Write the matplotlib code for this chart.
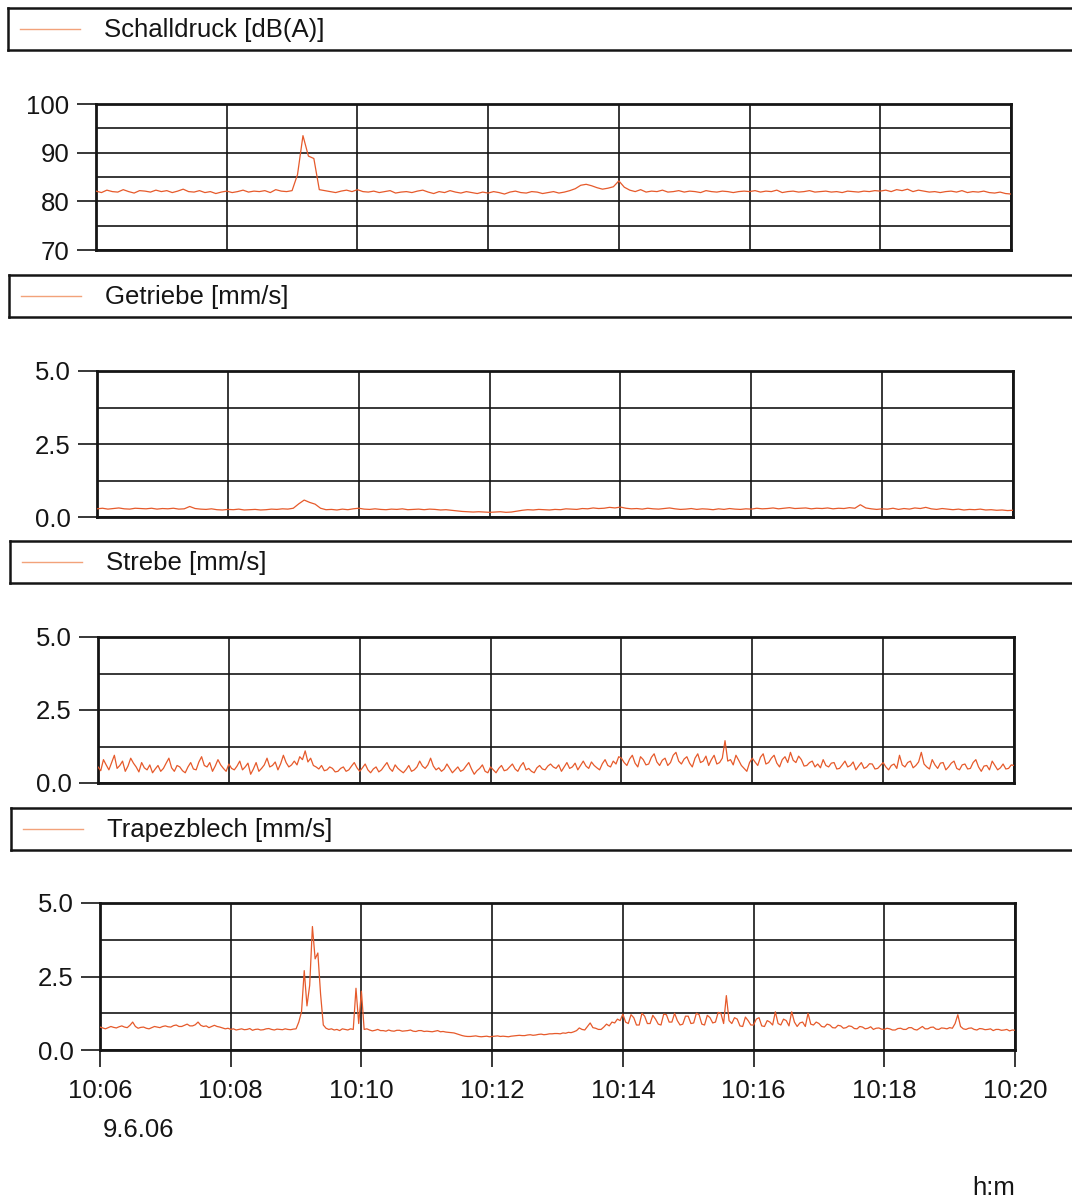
import matplotlib

matplotlib.use("Agg")
import matplotlib.pyplot as plt
import numpy as np

plt.rcParams["font.family"] = ["Liberation Sans", "DejaVu Sans"]

# time axes: minutes after 10:06 (5 s and 2.5 s sampling)
t_5s = np.arange(169) / 12.0
t_2s5 = np.arange(337) / 24.0
x_ticks = [0, 2, 4, 6, 8, 10, 12, 14]
x_labels = ["10:06", "10:08", "10:10", "10:12", "10:14", "10:16", "10:18", "10:20"]
date_label = "9.6.06"
unit_label = "h:m"

titles = ["Schalldruck [dB(A)]", "Getriebe [mm/s]", "Strebe [mm/s]", "Trapezblech [mm/s]"]

schalldruck = [
    82.1, 81.8, 82.3, 82.0, 81.9, 82.4, 82.0, 81.7, 82.2, 82.1, 81.9, 82.3,
    82.0, 82.2, 81.8, 82.1, 82.5, 82.0, 81.9, 82.2, 81.8, 82.0, 81.6, 81.9,
    82.1, 81.8, 82.0, 82.3, 81.9, 82.1, 82.0, 82.2, 81.8, 82.4, 82.1, 82.0,
    82.2, 85.5, 93.5, 89.3, 88.8, 82.4, 82.2, 82.0, 81.8, 82.1, 82.3, 82.0,
    82.4, 82.0, 81.9, 82.1, 81.8, 82.0, 82.2, 81.7, 81.9, 82.0, 81.8, 82.1,
    82.3, 81.9, 81.6, 82.0, 81.8, 82.2, 81.9, 81.7, 82.0, 81.8, 81.6, 81.9,
    81.7, 82.0, 81.8, 81.5, 81.9, 82.1, 81.8, 81.7, 82.0, 81.9, 81.6, 81.8,
    82.0, 81.7, 81.9, 82.2, 82.6, 83.3, 83.5, 83.2, 82.8, 82.5, 82.7, 83.0,
    84.2, 82.9, 82.3, 82.0, 82.4, 81.9, 82.1, 82.0, 82.3, 81.9, 82.0, 82.2,
    81.9, 82.1, 82.0, 81.8, 82.2, 82.0, 81.9, 82.1, 82.0, 81.8, 82.0, 82.1,
    82.0, 82.2, 81.9, 82.1, 82.0, 82.3, 81.8, 82.0, 82.1, 81.9, 82.0, 82.2,
    81.9, 82.0, 82.1, 81.9, 82.0, 81.8, 82.1, 82.0, 81.9, 82.1, 82.0, 82.2,
    82.1, 82.3, 82.0, 82.4, 82.2, 82.5, 82.0, 82.3, 82.1, 81.9, 82.0, 81.8,
    82.0, 82.1, 81.9, 82.2, 81.8, 82.0, 81.9, 82.1, 81.8, 81.7, 81.9, 81.6, 81.5,
]

getriebe = [
    0.28, 0.30, 0.27, 0.29, 0.31, 0.28, 0.27, 0.30, 0.29, 0.28, 0.30, 0.27,
    0.29, 0.28, 0.30, 0.27, 0.28, 0.36, 0.29, 0.27, 0.26, 0.28, 0.25, 0.24,
    0.26, 0.25, 0.27, 0.24, 0.25, 0.26, 0.24, 0.25, 0.27, 0.26, 0.28, 0.27,
    0.30, 0.45, 0.58, 0.50, 0.44, 0.30, 0.25, 0.26, 0.24, 0.27, 0.25, 0.28,
    0.30, 0.27, 0.26, 0.28, 0.26, 0.25, 0.27, 0.26, 0.28, 0.25, 0.26, 0.27,
    0.25, 0.27, 0.26, 0.24, 0.25, 0.23, 0.21, 0.19, 0.18, 0.17, 0.18, 0.17,
    0.16, 0.17, 0.18, 0.16, 0.17, 0.20, 0.23, 0.25, 0.24, 0.26, 0.25, 0.24,
    0.26, 0.25, 0.28, 0.27, 0.26, 0.29, 0.28, 0.31, 0.29, 0.30, 0.33, 0.31,
    0.34, 0.30, 0.28, 0.29, 0.27, 0.30, 0.28, 0.27, 0.29, 0.31, 0.28, 0.26,
    0.27, 0.29, 0.26, 0.28, 0.27, 0.25, 0.28, 0.26, 0.29, 0.27, 0.26, 0.28,
    0.27, 0.30, 0.28, 0.29, 0.31, 0.28, 0.30, 0.32, 0.29, 0.30, 0.31, 0.28,
    0.30, 0.29, 0.31, 0.28, 0.30, 0.29, 0.32, 0.30, 0.42, 0.31, 0.28, 0.26,
    0.28, 0.27, 0.30, 0.26, 0.29, 0.27, 0.31, 0.29, 0.33, 0.28, 0.26, 0.29,
    0.27, 0.25, 0.27, 0.24, 0.26, 0.25, 0.27, 0.24, 0.25, 0.23, 0.24, 0.22, 0.23,
]

strebe = [
    0.55, 0.42, 0.80, 0.62, 0.45, 0.70, 0.95, 0.50, 0.60, 0.75, 0.40, 0.58,
    0.85, 0.68, 0.55, 0.38, 0.70, 0.52, 0.45, 0.62, 0.35, 0.48, 0.60, 0.40,
    0.50, 0.68, 0.85, 0.52, 0.40, 0.60, 0.55, 0.42, 0.35, 0.55, 0.70, 0.48,
    0.45, 0.72, 0.90, 0.60, 0.55, 0.70, 0.40, 0.58, 0.80, 0.62, 0.50, 0.40,
    0.65, 0.50, 0.45, 0.58, 0.75, 0.45, 0.55, 0.68, 0.30, 0.48, 0.70, 0.40,
    0.50, 0.62, 0.85, 0.55, 0.60, 0.72, 0.45, 0.66, 0.95, 0.70, 0.55, 0.62,
    0.75, 0.62, 0.90, 0.80, 1.10, 0.72, 0.85, 0.60, 0.55, 0.48, 0.60, 0.42,
    0.45, 0.55, 0.50, 0.38, 0.40, 0.50, 0.55, 0.40, 0.45, 0.58, 0.70, 0.52,
    0.40, 0.52, 0.65, 0.45, 0.35, 0.48, 0.55, 0.38, 0.45, 0.58, 0.70, 0.50,
    0.40, 0.62, 0.50, 0.42, 0.35, 0.46, 0.60, 0.40, 0.45, 0.55, 0.75, 0.58,
    0.50, 0.62, 0.85, 0.58, 0.45, 0.52, 0.40, 0.48, 0.65, 0.50, 0.35, 0.45,
    0.55, 0.40, 0.45, 0.58, 0.70, 0.48, 0.30, 0.42, 0.50, 0.62, 0.40, 0.35,
    0.55, 0.45, 0.35, 0.50, 0.60, 0.42, 0.45, 0.55, 0.65, 0.48, 0.40, 0.58,
    0.70, 0.45, 0.50, 0.40, 0.35, 0.52, 0.60, 0.48, 0.45, 0.58, 0.65, 0.55,
    0.50, 0.62, 0.40, 0.55, 0.70, 0.50, 0.55, 0.68, 0.45, 0.60, 0.75, 0.58,
    0.50, 0.72, 0.60, 0.52, 0.45, 0.66, 0.80, 0.60, 0.55, 0.75, 0.65, 0.90,
    0.85, 0.70, 0.60, 0.82, 0.95, 0.68, 0.55, 0.90, 0.80, 0.62, 0.65, 0.88,
    1.00, 0.72, 0.60, 0.78, 0.85, 0.60, 0.70, 0.95, 1.05, 0.75, 0.65, 0.82,
    0.90, 0.68, 0.55, 0.85, 1.00, 0.70, 0.75, 0.92, 0.60, 0.80, 0.95, 0.65,
    0.70, 0.85, 1.45, 0.75, 0.80, 0.62, 0.95, 0.78, 0.60, 0.50, 0.40, 0.70,
    0.85, 0.72, 0.60, 0.88, 1.00, 0.65, 0.70, 0.85, 0.95, 0.68, 0.55, 0.80,
    0.90, 0.70, 1.05, 0.78, 0.70, 0.92, 0.80, 0.58, 0.60, 0.70, 0.75, 0.55,
    0.65, 0.52, 0.80, 0.60, 0.55, 0.68, 0.70, 0.48, 0.50, 0.62, 0.75, 0.55,
    0.60, 0.72, 0.45, 0.58, 0.70, 0.50, 0.55, 0.66, 0.65, 0.48, 0.50, 0.60,
    0.70, 0.55, 0.45, 0.60, 0.65, 0.50, 0.95, 0.62, 0.55, 0.70, 0.75, 0.52,
    0.60, 0.72, 1.05, 0.65, 0.55, 0.48, 0.80, 0.62, 0.50, 0.68, 0.70, 0.45,
    0.55, 0.68, 0.75, 0.50, 0.45, 0.62, 0.65, 0.48, 0.50, 0.70, 0.80, 0.55,
    0.40, 0.58, 0.60, 0.45, 0.75, 0.60, 0.45, 0.52, 0.65, 0.48, 0.50, 0.62,
    0.60,
]

trapezblech = [
    0.78, 0.75, 0.72, 0.76, 0.80, 0.77, 0.75, 0.79, 0.82, 0.78, 0.76, 0.84,
    0.95, 0.80, 0.74, 0.77, 0.78, 0.74, 0.72, 0.76, 0.80, 0.78, 0.76, 0.80,
    0.82, 0.79, 0.78, 0.83, 0.85, 0.80, 0.80, 0.84, 0.88, 0.82, 0.82, 0.86,
    0.95, 0.84, 0.80, 0.82, 0.76, 0.80, 0.84, 0.80, 0.78, 0.75, 0.72, 0.74,
    0.70, 0.72, 0.68, 0.70, 0.72, 0.69, 0.70, 0.73, 0.67, 0.70, 0.71, 0.68,
    0.69, 0.72, 0.73, 0.70, 0.68, 0.71, 0.70, 0.69, 0.72, 0.70, 0.69, 0.71,
    0.72, 0.95, 1.30, 2.70, 1.50, 2.20, 4.20, 3.10, 3.30, 1.90, 0.85, 0.74,
    0.70, 0.72, 0.68, 0.70, 0.66, 0.72, 0.70, 0.68, 0.72, 0.70, 2.10, 0.90,
    2.00, 0.70, 0.72, 0.68, 0.65, 0.67, 0.70, 0.66, 0.66, 0.64, 0.68, 0.65,
    0.64, 0.67, 0.67, 0.64, 0.65, 0.66, 0.68, 0.64, 0.63, 0.66, 0.66, 0.63,
    0.64, 0.63, 0.62, 0.64, 0.66, 0.62, 0.63, 0.61, 0.60, 0.59, 0.58, 0.55,
    0.52, 0.49, 0.47, 0.46, 0.46, 0.47, 0.48, 0.46, 0.45, 0.46, 0.47, 0.45,
    0.46, 0.47, 0.48, 0.46, 0.47, 0.46, 0.45, 0.47, 0.48, 0.49, 0.50, 0.49,
    0.49, 0.51, 0.52, 0.50, 0.51, 0.53, 0.54, 0.52, 0.53, 0.55, 0.55, 0.56,
    0.56, 0.55, 0.58, 0.57, 0.60, 0.59, 0.62, 0.66, 0.75, 0.70, 0.68, 0.80,
    0.92, 0.76, 0.74, 0.70, 0.70, 0.78, 0.88, 0.82, 0.95, 0.92, 1.05, 1.00,
    1.22, 0.95, 0.90, 1.20, 1.10, 0.85, 0.85, 1.25, 1.15, 0.90, 0.90, 1.18,
    1.05, 0.88, 0.85, 1.22, 1.20, 0.95, 0.95, 1.25, 1.00, 0.85, 0.88, 1.15,
    1.15, 0.90, 0.92, 1.25, 1.20, 0.88, 0.85, 1.18, 1.10, 0.92, 0.95, 1.28,
    1.25, 0.90, 1.85, 1.00, 0.90, 1.10, 1.05, 0.82, 0.80, 1.12, 1.00, 0.85,
    0.85, 1.05, 1.10, 0.82, 0.80, 1.00, 0.95, 0.85, 1.30, 0.90, 0.85, 1.05,
    1.00, 0.82, 1.30, 0.95, 0.80, 0.92, 0.95, 0.80, 1.25, 0.88, 0.85, 0.95,
    0.90, 0.80, 0.78, 0.88, 0.85, 0.76, 0.75, 0.84, 0.82, 0.74, 0.76, 0.82,
    0.80, 0.73, 0.72, 0.80, 0.78, 0.72, 0.74, 0.79, 0.70, 0.74, 0.75, 0.71,
    0.70, 0.74, 0.72, 0.68, 0.68, 0.73, 0.74, 0.70, 0.70, 0.76, 0.76, 0.70,
    0.68, 0.74, 0.80, 0.72, 0.72, 0.77, 0.78, 0.71, 0.70, 0.75, 0.74, 0.72,
    0.76, 0.74, 0.90, 1.20, 0.80, 0.72, 0.70, 0.74, 0.75, 0.70, 0.68, 0.73,
    0.72, 0.69, 0.70, 0.72, 0.66, 0.70, 0.70, 0.67, 0.68, 0.70, 0.65, 0.68,
    0.67,
]

series = [schalldruck, getriebe, strebe, trapezblech]
times = [t_5s, t_5s, t_2s5, t_2s5]
y_limits = [(70, 100), (0, 5), (0, 5), (0, 5)]
y_major = [[70, 80, 90, 100], [0, 2.5, 5], [0, 2.5, 5], [0, 2.5, 5]]
y_minor = [[75, 85, 95], [1.25, 3.75], [1.25, 3.75], [1.25, 3.75]]
y_labels = [["70", "80", "90", "100"], ["0.0", "2.5", "5.0"], ["0.0", "2.5", "5.0"], ["0.0", "2.5", "5.0"]]

W, H = 1072, 1200
# pixel boxes (left, top, right, bottom) for plot areas and legend strips
plot_boxes = [(96, 104, 1011, 250), (97, 371, 1013, 517), (98, 637, 1014, 783), (100, 903, 1015, 1050)]
legend_boxes = [(8, 8, 1080, 50), (9, 275, 1080, 317), (10, 541, 1080, 583), (11, 808, 1080, 850)]

LINE_COLOR = "#e65a2b"
INK = "#151515"
FS = 18.5


def fig_rect(box):
    l, t, r, b = box
    return [l / W, 1 - b / H, (r - l) / W, (b - t) / H]


fig = plt.figure(figsize=(W / 100, H / 100), dpi=100)

for i, values in enumerate(series):
    # legend strip
    lax = fig.add_axes(fig_rect(legend_boxes[i]))
    lax.set_xlim(0, legend_boxes[i][2] - legend_boxes[i][0])
    lax.set_ylim(0, 1)
    lax.set_xticks([])
    lax.set_yticks([])
    for sp in lax.spines.values():
        sp.set_linewidth(1.8)
        sp.set_color(INK)
    lax.plot([12, 72], [0.5, 0.5], color="#f2a27a", lw=1.0)
    lax.text(96, 0.48, titles[i], fontsize=FS, va="center", ha="left", color=INK)

    # plot area
    ax = fig.add_axes(fig_rect(plot_boxes[i]))
    ax.plot(times[i], values, color=LINE_COLOR, lw=0.9, zorder=3)
    ax.set_xlim(0, 14)
    ax.set_ylim(*y_limits[i])
    ax.set_yticks(y_major[i])
    ax.set_yticklabels(y_labels[i])
    ax.set_yticks(y_minor[i], minor=True)
    ax.set_xticks(x_ticks)
    ax.grid(True, which="both", color=INK, lw=1.2, zorder=1)
    ax.tick_params(axis="y", which="major", direction="out", length=13.5, width=1.2,
                   color=INK, labelsize=FS, pad=5.5, labelcolor=INK)
    ax.tick_params(axis="y", which="minor", length=0)
    if i == len(series) - 1:
        ax.set_xticklabels(x_labels)
        ax.tick_params(axis="x", direction="out", length=12, width=1.2, color=INK,
                       labelsize=FS, pad=9, labelcolor=INK)
    else:
        ax.set_xticklabels([])
        ax.tick_params(axis="x", length=0)
    for sp in ax.spines.values():
        sp.set_linewidth(2.0)
        sp.set_color(INK)

fig.text(103 / W, 1 - 1130 / H, date_label, fontsize=FS, ha="left", va="center", color=INK)
fig.text(1015 / W, 1 - 1188 / H, unit_label, fontsize=FS, ha="right", va="center", color=INK)

fig.savefig("out.png", dpi=100, facecolor="white")
plt.close(fig)
